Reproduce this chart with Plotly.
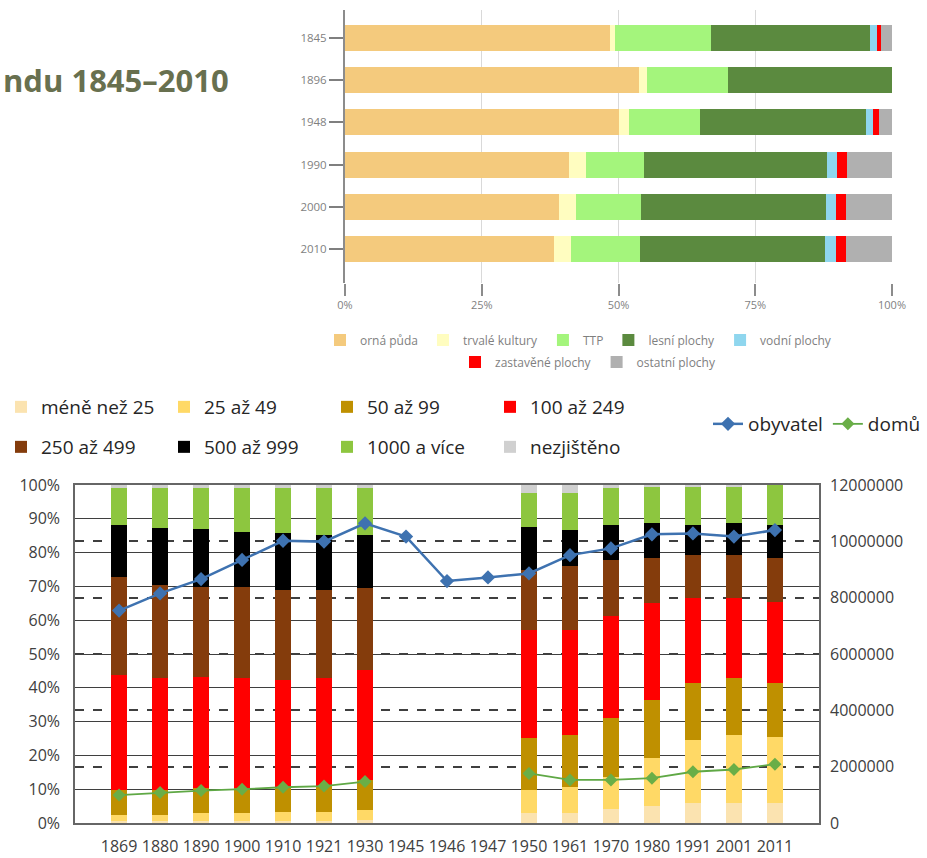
import plotly.graph_objects as go

W, H = 927, 858

# ---------------- top chart data (land use, %) ----------------
land_years = ['1845', '1896', '1948', '1990', '2000', '2010']
orna = [48.4, 53.8, 50.0, 40.9, 39.1, 38.2]
trvale = [0.9, 1.5, 2.0, 3.1, 3.1, 3.1]
ttp = [17.6, 14.7, 12.9, 10.6, 12.0, 12.6]
lesni = [29.0, 30.0, 30.4, 33.5, 33.8, 33.9]
vodni = [1.4, 0.0, 1.2, 1.8, 1.8, 2.0]
zastavene = [0.7, 0.0, 1.1, 1.8, 1.8, 1.7]
ostatni = [2.0, 0.0, 2.4, 8.3, 8.4, 8.5]
land_names = ['orná půda', 'trvalé kultury', 'TTP', 'lesní plochy', 'vodní plochy',
              'zastavěné plochy', 'ostatní plochy']
land_colors = ['#F4CA7D', '#FFFDC0', '#A4F57C', '#5B8A3F', '#8FD6EE', '#FF0000', '#B0B0B0']
land_series = [orna, trvale, ttp, lesni, vodni, zastavene, ostatni]

# ---------------- bottom chart data ----------------
years = ['1869', '1880', '1890', '1900', '1910', '1921', '1930', '1945', '1946', '1947',
         '1950', '1961', '1970', '1980', '1991', '2001', '2011']
N = None
s_lt25 = [0.5, 0.5, 0.5, 0.5, 0.5, 0.5, 0.8, N, N, N, 3.0, 3.0, 4.0, 5.0, 6.0, 6.0, 6.0]
s_25_49 = [2.0, 2.0, 2.5, 2.5, 2.7, 2.8, 3.1, N, N, N, 6.9, 7.8, 9.5, 14.2, 18.6, 20.0, 19.5]
s_50_99 = [7.4, 7.4, 7.3, 7.3, 7.6, 7.7, 8.9, N, N, N, 15.2, 15.3, 17.5, 17.3, 16.8, 16.9, 15.9]
s_100_249 = [33.9, 33.0, 33.0, 32.6, 31.6, 31.9, 32.5, N, N, N, 32.0, 31.0, 30.1, 28.5, 25.1, 23.6, 24.1]
s_250_499 = [28.9, 27.5, 26.6, 27.0, 26.6, 26.1, 24.2, N, N, N, 17.8, 18.8, 16.7, 13.3, 12.8, 12.8, 12.8]
s_500_999 = [15.5, 16.8, 17.0, 16.3, 16.7, 16.2, 15.7, N, N, N, 12.8, 10.8, 10.4, 10.4, 8.9, 9.4, 9.9]
s_1000 = [11.0, 12.0, 12.3, 13.0, 13.5, 14.0, 14.0, N, N, N, 9.8, 10.8, 10.8, 10.8, 11.3, 10.8, 11.8]
s_nezj = [0.8, 0.8, 0.8, 0.8, 0.8, 0.8, 0.8, N, N, N, 2.5, 2.5, 1.0, 0.5, 0.5, 0.5, 0.0]
size_names = ['méně než 25', '25 až 49', '50 až 99', '100 až 249',
              '250 až 499', '500 až 999', '1000 a více', 'nezjištěno']
size_colors = ['#FBE3B0', '#FFD966', '#BF9000', '#FF0000', '#843C0C', '#000000', '#8DC63F', '#D0D0D0']
size_series = [s_lt25, s_25_49, s_50_99, s_100_249, s_250_499, s_500_999, s_1000, s_nezj]

obyvatel = [7540000, 8150000, 8660000, 9340000, 10020000, 9990000, 10640000, 10170000,
            8590000, 8720000, 8860000, 9510000, 9750000, 10250000, 10280000, 10170000, 10400000]
domu = [990000, 1080000, 1150000, 1200000, 1270000, 1310000, 1470000, N, N, N,
        1760000, 1530000, 1530000, 1590000, 1820000, 1900000, 2090000]

FONT = 'Open Sans, Noto Sans, sans-serif'

def px_x(p):
    return p / W

def px_y(p):
    return 1 - p / H

fig = go.Figure()

# top chart
for i, (name, col, vals) in enumerate(zip(land_names, land_colors, land_series)):
    fig.add_trace(go.Bar(
        y=land_years, x=vals, name=name, orientation='h',
        marker=dict(color=col, line=dict(width=0)), width=0.62,
        xaxis='x', yaxis='y', legend='legend' if i < 5 else 'legend2',
        hoverinfo='skip'))

# bottom chart bars
for i, (name, col, vals) in enumerate(zip(size_names, size_colors, size_series)):
    fig.add_trace(go.Bar(
        x=years, y=vals, name=name,
        marker=dict(color=col, line=dict(width=0)), width=0.39,
        xaxis='x2', yaxis='y2', legend='legend3' if i < 4 else 'legend4',
        hoverinfo='skip'))

fig.add_trace(go.Scatter(
    x=years, y=obyvatel, name='obyvatel', mode='lines+markers',
    line=dict(color='#3E72B0', width=2.5),
    marker=dict(symbol='diamond', size=11, color='#3E72B0'),
    xaxis='x2', yaxis='y3', legend='legend5', connectgaps=False))
fig.add_trace(go.Scatter(
    x=years, y=domu, name='domů', mode='lines+markers',
    line=dict(color='#5FA845', width=1.8),
    marker=dict(symbol='diamond', size=10, color='#6AAE47'),
    xaxis='x2', yaxis='y3', legend='legend5', connectgaps=False))

top_font = dict(family=FONT, size=12, color='#7F7F7F')
low_font = dict(family=FONT, size=16, color='#404040')
leg_font = dict(family=FONT, size=19, color='#262626')

def leg(x, y, font, xanchor='left', **kw):
    d = dict(orientation='h', x=px_x(x), xanchor=xanchor, y=px_y(y), yanchor='middle',
             font=font, bgcolor='rgba(0,0,0,0)', borderwidth=0,
             traceorder='normal', itemclick=False, itemdoubleclick=False)
    d.update(kw)
    return d

fig.update_layout(
    width=W, height=H, autosize=False,
    margin=dict(l=0, r=0, t=0, b=0),
    paper_bgcolor='white', plot_bgcolor='rgba(0,0,0,0)',
    barmode='stack', showlegend=True,
    font=dict(family=FONT),
    xaxis=dict(domain=[px_x(345), px_x(892)], anchor='y', range=[0, 100],
               tickvals=[0, 25, 50, 75, 100], ticktext=['0%', '25%', '50%', '75%', '100%'],
               showgrid=True, gridcolor='#D9D9D9', gridwidth=1,
               ticks='outside', ticklen=12, tickcolor='#8C8C8C', tickwidth=1.5,
               tickfont=dict(family=FONT, size=11, color='#7F7F7F'),
               showline=False, zeroline=False, automargin=False),
    yaxis=dict(domain=[px_y(283), px_y(10)], anchor='x', type='category',
               categoryorder='array', categoryarray=land_years,
               range=[5.806, -0.664], showgrid=False,
               ticks='outside', ticklen=14, tickcolor='#7F7F7F', tickwidth=2,
               tickfont=dict(family=FONT, size=11.5, color='#7F7F7F'),
               showline=True, linecolor='#8C8C8C', linewidth=2, zeroline=False,
               automargin=False),
    xaxis2=dict(domain=[px_x(75), px_x(819)], anchor='y2', type='category',
                categoryorder='array', categoryarray=years, tickangle=0,
                showgrid=False, showline=True, mirror=True, linecolor='#666666', linewidth=1.5,
                ticks='', tickfont=low_font, ticklabelstandoff=8, zeroline=False,
                automargin=False),
    yaxis2=dict(domain=[px_y(823), px_y(485)], anchor='x2', range=[0, 100], dtick=10,
                ticksuffix='%', showgrid=True, gridcolor='#3F3F3F', gridwidth=1.3,
                showline=True, mirror=True, linecolor='#666666', linewidth=1.5,
                ticks='', tickfont=low_font, ticklabelstandoff=10, zeroline=False,
                automargin=False),
    yaxis3=dict(overlaying='y2', side='right', anchor='x2', range=[0, 12000000],
                dtick=2000000, tickformat='d', showgrid=True, gridcolor='#3F3F3F',
                gridwidth=1.5, griddash='dash', ticks='', tickfont=low_font,
                ticklabelstandoff=10, zeroline=False, showline=False, automargin=False),
    legend=leg(320, 340, top_font),
    legend2=leg(455, 362, top_font),
    legend3=leg(1, 407, leg_font, entrywidth=118, entrywidthmode='pixels'),
    legend4=leg(1, 447, leg_font, entrywidth=118, entrywidthmode='pixels'),
    legend5=leg(926, 424, leg_font, xanchor='right'),
    annotations=[dict(text='<b>ndu 1845–2010</b>', x=px_x(1), y=px_y(80), xref='paper',
                      yref='paper', xanchor='left', yanchor='middle', showarrow=False,
                      font=dict(family=FONT, size=31, color='#68704F'))],
)

fig.write_html('out.html', config={'displayModeBar': False},
               post_script="document.body.style.margin='0';")
